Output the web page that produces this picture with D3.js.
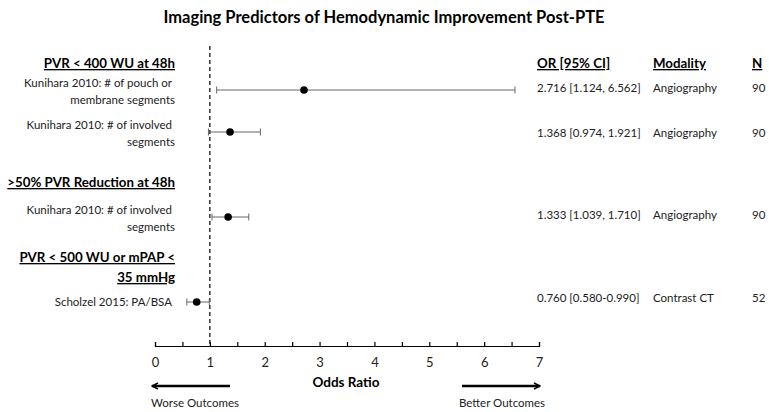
<!DOCTYPE html>
<html>
<head>
<meta charset="utf-8">
<script src="https://cdn.jsdelivr.net/npm/d3@7"></script>
<style>
  body { margin: 0; background: #fff; }
  svg { font-family: Lato, "Open Sans", sans-serif; }
  .hdr { font-weight: bold; font-size: 13.3px; text-decoration: underline; }
  .lbl { font-size: 11.5px; fill: #222; }
</style>
</head>
<body>
<div id="chart"></div>
<script>
// study rows
var studies = ["Kunihara 2010: # of pouch or|membrane segments",
               "Kunihara 2010: # of involved|segments",
               "Kunihara 2010: # of involved|segments",
               "Scholzel 2015: PA/BSA"];
var orVals = [2.716, 1.368, 1.333, 0.760];
var ciLow  = [1.124, 0.974, 1.039, 0.580];
var ciHigh = [6.562, 1.921, 1.710, 0.990];
var orText = ["2.716 [1.124, 6.562]", "1.368 [0.974, 1.921]", "1.333 [1.039, 1.710]", "0.760 [0.580-0.990]"];
var modality = ["Angiography", "Angiography", "Angiography", "Contrast CT"];
var nVals = [90, 90, 90, 52];

var groupTitles = ["PVR < 400 WU at 48h", ">50% PVR Reduction at 48h", "PVR < 500 WU or mPAP <|35 mmHg"];
var colHeaders = ["OR [95% CI]", "Modality", "N"];
var xTicks = [0, 1, 2, 3, 4, 5, 6, 7];

var W = 769, H = 412;
var svg = d3.select("#chart").append("svg")
    .attr("width", W)
    .attr("height", H);

var x = d3.scaleLinear().domain([0, 7]).range([155, 539]);

// vertical slots for rows (layout)
var rowY = d3.scaleOrdinal().domain(["g0", "s0", "s1", "g1", "s2", "g2", "s3"])
    .range([68, 90, 132, 187, 217, 262, 302]);

svg.append("text")
    .attr("x", 384).attr("y", 23)
    .attr("text-anchor", "middle")
    .style("font-weight", "bold").style("font-size", "16.5px")
    .text("Imaging Predictors of Hemodynamic Improvement Post-PTE");

// null line
svg.append("line")
    .attr("x1", x(1)).attr("x2", x(1))
    .attr("y1", 46).attr("y2", 346)
    .attr("stroke", "#000").attr("stroke-width", 1.2)
    .attr("stroke-dasharray", "4,3");

// group headers
groupTitles.forEach(function(t, i){
    var lines = t.split("|");
    var txt = svg.append("text").attr("class", "hdr")
        .attr("text-anchor", "end")
        .attr("x", 175)
        .attr("y", rowY("g" + i));
    lines.forEach(function(l, j){
        txt.append("tspan").attr("x", 175).attr("dy", j === 0 ? 0 : 20).text(l);
    });
});

// study labels
studies.forEach(function(s, i){
    var lines = s.split("|");
    var y0 = rowY("s" + i) + (lines.length > 1 ? -3 : 4);
    var txt = svg.append("text").attr("class", "lbl")
        .attr("text-anchor", "end")
        .attr("y", y0);
    lines.forEach(function(l, j){
        txt.append("tspan").attr("x", j === 0 ? 172 : 175).attr("dy", j === 0 ? 0 : 16.5).text(l);
    });
});

// CI bars
var idx = d3.range(orVals.length);
var ci = svg.selectAll(".ci").data(idx).enter().append("g").attr("class", "ci");
ci.append("line")
    .attr("x1", function(i){ return x(ciLow[i]); })
    .attr("x2", function(i){ return x(ciHigh[i]); })
    .attr("y1", function(i){ return rowY("s" + i); })
    .attr("y2", function(i){ return rowY("s" + i); })
    .attr("stroke", "#666").attr("stroke-width", 1);
[ciLow, ciHigh].forEach(function(arr){
    ci.append("line")
        .attr("x1", function(i){ return x(arr[i]); })
        .attr("x2", function(i){ return x(arr[i]); })
        .attr("y1", function(i){ return rowY("s" + i) - 3.5; })
        .attr("y2", function(i){ return rowY("s" + i) + 3.5; })
        .attr("stroke", "#666").attr("stroke-width", 1);
});
ci.append("circle")
    .attr("cx", function(i){ return x(orVals[i]); })
    .attr("cy", function(i){ return rowY("s" + i); })
    .attr("r", 3.8)
    .attr("fill", "#000");

// right columns
var colX = [537, 653, 752];
colHeaders.forEach(function(h, j){
    svg.append("text").attr("class", "hdr")
        .attr("x", colX[j]).attr("y", 68).text(h);
});
var tOff = [2, 5, 2, 0];
idx.forEach(function(i){
    var y = rowY("s" + i) + tOff[i];
    svg.append("text").attr("class", "lbl").attr("x", colX[0]).attr("y", y).text(orText[i]);
    svg.append("text").attr("class", "lbl").attr("x", colX[1]).attr("y", y).text(modality[i]);
    svg.append("text").attr("class", "lbl").attr("x", colX[2]).attr("y", y).text(nVals[i]);
});

// x axis
var axis = d3.axisBottom(x)
    .tickValues(d3.range(0, 7.01, 0.5))
    .tickSize(-4)
    .tickFormat(function(d){ return xTicks.indexOf(d) >= 0 ? d : ""; });
var ax = svg.append("g")
    .attr("transform", "translate(0,346)")
    .call(axis);
ax.select(".domain").attr("stroke", "#000").attr("stroke-width", 1.2);
ax.selectAll(".tick line").attr("stroke", "#000").attr("stroke-width", 1.2);
ax.selectAll(".tick text")
    .attr("y", 12)
    .style("font-family", "Lato, sans-serif")
    .style("font-size", "13px")
    .attr("fill", "#222");

svg.append("text")
    .attr("x", 346).attr("y", 387)
    .attr("text-anchor", "middle")
    .style("font-weight", "bold").style("font-size", "13.5px")
    .text("Odds Ratio");

// direction arrows (open chevron heads)
svg.append("defs").append("marker")
    .attr("id", "ah")
    .attr("viewBox", "0 0 10 10")
    .attr("refX", 9).attr("refY", 5)
    .attr("markerWidth", 3).attr("markerHeight", 3)
    .attr("orient", "auto")
    .append("path").attr("d", "M1,1L9,5L1,9")
    .attr("fill", "none").attr("stroke", "#000").attr("stroke-width", 2);

svg.append("line")
    .attr("x1", 230).attr("x2", 152).attr("y1", 386).attr("y2", 386)
    .attr("stroke", "#000").attr("stroke-width", 2.5)
    .attr("marker-end", "url(#ah)");
svg.append("line")
    .attr("x1", 462).attr("x2", 540).attr("y1", 386).attr("y2", 386)
    .attr("stroke", "#000").attr("stroke-width", 2.5)
    .attr("marker-end", "url(#ah)");

svg.append("text").attr("class", "lbl")
    .attr("x", 195).attr("y", 407).attr("text-anchor", "middle")
    .text("Worse Outcomes");
svg.append("text").attr("class", "lbl")
    .attr("x", 502).attr("y", 407).attr("text-anchor", "middle")
    .text("Better Outcomes");
</script>
</body>
</html>
